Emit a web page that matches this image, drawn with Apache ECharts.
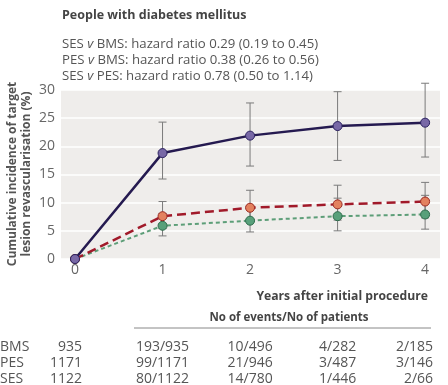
<!DOCTYPE html>
<html><head><meta charset="utf-8">
<script src="https://cdn.jsdelivr.net/npm/echarts@6/dist/echarts.min.js"></script>
<style>html,body{margin:0;padding:0;background:#fff}#c{width:448px;height:385px}</style>
</head><body><div id="c"></div>
<script>
// ---- data ----
const years = [0, 1, 2, 3, 4];
const yTicks = [0, 5, 10, 15, 20, 25, 30];
const bmsValues = [0, 18.8, 21.9, 23.6, 24.2];
const pesValues = [0, 7.6, 9.1, 9.7, 10.2];
const sesValues = [0, 5.9, 6.8, 7.6, 7.9];
const bmsLow = [null, 14.2, 16.5, 17.5, 18.1];
const bmsHigh = [null, 24.3, 27.7, 29.7, 31.2];
const pesLow = [null, 5.4, 6.6, 6.9, 7.3];
const pesHigh = [null, 10.2, 12.2, 13.1, 13.6];
const sesLow = [null, 4.1, 4.8, 5.0, 5.3];
const sesHigh = [null, 8.1, 9.3, 10.8, 11.3];
const groups = ['BMS', 'PES', 'SES'];
const patients0 = ['935', '1171', '1122'];
const eventsTable = [
  ['193/935', '10/496', '4/282', '2/185'],
  ['99/1171', '21/946', '3/487', '3/146'],
  ['80/1122', '14/780', '1/446', '2/66']
];
const titleText = 'People with diabetes mellitus';
const hazardLines = [
  ['SES ', 'v', ' BMS: hazard ratio 0.29 (0.19 to 0.45)'],
  ['PES ', 'v', ' BMS: hazard ratio 0.38 (0.26 to 0.56)'],
  ['SES ', 'v', ' PES: hazard ratio 0.78 (0.50 to 1.14)']
];
const yName = ['Cumulative incidence of target', 'lesion revascularisation (%)'];
const xName = 'Years after initial procedure';
const tableTitle = 'No of events/No of patients';

const FONT = 'Open Sans';
const chart = echarts.init(document.getElementById('c'), null, {renderer: 'canvas'});

function pairs(vals) { return years.map((x, i) => [x, vals[i]]); }
function errData(lo, hi) {
  const out = [];
  years.forEach((x, i) => { if (lo[i] != null) out.push([x, lo[i], hi[i]]); });
  return out;
}
function errSeries(lo, hi) {
  return {
    type: 'custom', clip: false, z: 1,
    data: errData(lo, hi),
    encode: {x: 0, y: [1, 2]},
    renderItem: function (params, api) {
      const x = api.value(0);
      const p1 = api.coord([x, api.value(1)]);
      const p2 = api.coord([x, api.value(2)]);
      const w = 4;
      const st = {stroke: '#7a7a7a', lineWidth: 1};
      return {type: 'group', children: [
        {type: 'line', shape: {x1: p1[0], y1: p1[1], x2: p2[0], y2: p2[1]}, style: st},
        {type: 'line', shape: {x1: p1[0] - w, y1: p1[1], x2: p1[0] + w, y2: p1[1]}, style: st},
        {type: 'line', shape: {x1: p2[0] - w, y1: p2[1], x2: p2[0] + w, y2: p2[1]}, style: st}
      ]};
    }
  };
}

const option = {
  animation: false,
  grid: {left: 61, right: 8, top: 90, bottom: 126, show: true, backgroundColor: '#efedeb', borderWidth: 0},
  xAxis: {
    type: 'value', min: -0.16, max: 4.17,
    axisLine: {show: false}, axisTick: {show: false}, splitLine: {show: false},
    axisLabel: {customValues: years, color: '#666', fontSize: 14, fontFamily: FONT, margin: 4,
      formatter: v => String(v)}
  },
  yAxis: {
    type: 'value', min: 0, max: 30, interval: 5,
    axisLine: {show: false}, axisTick: {show: false},
    splitLine: {show: true, lineStyle: {color: '#ffffff', width: 1.5}},
    axisLabel: {color: '#666', fontSize: 14, fontFamily: FONT, margin: 6}
  },
  series: [
    errSeries(sesLow, sesHigh),
    errSeries(pesLow, pesHigh),
    errSeries(bmsLow, bmsHigh),
    {type: 'line', name: 'SES', data: pairs(sesValues), z: 3, clip: false,
      symbol: 'circle', symbolSize: 9,
      lineStyle: {color: '#5d9e78', width: 2, type: [4, 3]},
      itemStyle: {color: '#58a07a', borderColor: '#2f6b4c', borderWidth: 1}},
    {type: 'line', name: 'PES', data: pairs(pesValues), z: 4, clip: false,
      symbol: 'circle', symbolSize: 9,
      lineStyle: {color: '#a11a2a', width: 2.5, type: [9, 5]},
      itemStyle: {color: '#e3815f', borderColor: '#9b2a22', borderWidth: 1}},
    {type: 'line', name: 'BMS', data: pairs(bmsValues), z: 5, clip: false,
      symbol: 'circle', symbolSize: 9,
      lineStyle: {color: '#251a50', width: 2.5},
      itemStyle: {color: '#7868a6', borderColor: '#2b2160', borderWidth: 1}}
  ]
};
chart.setOption(option);

// ---- text layer positioned from the axes ----
const g = [];
const txt = (x, y, s, o) => Object.assign({type: 'text', x: x, y: y,
  style: Object.assign({text: s, fill: '#555', fontFamily: FONT, fontSize: 14,
    textAlign: 'left', textVerticalAlign: 'middle'}, o || {})});
g.push(txt(62, 15, titleText, {fontWeight: 'bold', fontSize: 12.5, fill: '#444'}));
hazardLines.forEach((parts, i) => {
  g.push({type: 'text', x: 62, y: 44 + i * 16, style: {
    text: '{a|' + parts[0] + '}{i|' + parts[1] + '}{a|' + parts[2] + '}',
    rich: {a: {fontFamily: FONT, fontSize: 13.2, fill: '#555', color: '#555'},
           i: {fontFamily: FONT, fontSize: 13.2, fontStyle: 'italic', fill: '#555', color: '#555'}},
    textVerticalAlign: 'middle', verticalAlign: 'middle'}});
});
g.push({type: 'text', x: 20, y: 174, rotation: Math.PI / 2,
  style: {text: yName.join('\n'), fill: '#555', fontFamily: FONT, fontSize: 12, fontWeight: 'bold',
    lineHeight: 14, textAlign: 'center', textVerticalAlign: 'middle', align: 'center', verticalAlign: 'middle'}});
g.push(txt(428, 297, xName, {fontWeight: 'bold', fontSize: 12.2, textAlign: 'right', fill: '#444'}));
g.push(txt(289, 318, tableTitle, {fontWeight: 'bold', fontSize: 11.5, textAlign: 'center', fill: '#444'}));
g.push({type: 'line', shape: {x1: 134, y1: 328, x2: 431, y2: 328}, style: {stroke: '#888', lineWidth: 1}});
const px = years.map(x => chart.convertToPixel({xAxisIndex: 0}, x));
groups.forEach((name, r) => {
  const y = 347 + r * 16;
  g.push(txt(0, y, name));
  g.push(txt(px[0] + 7, y, patients0[r], {textAlign: 'right'}));
  eventsTable[r].forEach((s, c) => {
    if (c === 3) g.push(txt(px[4] + 8, y, s, {textAlign: 'right'}));
    else g.push(txt(px[c + 1], y, s, {textAlign: 'center'}));
  });
});
chart.setOption({graphic: {elements: g}});
</script>
</body></html>
